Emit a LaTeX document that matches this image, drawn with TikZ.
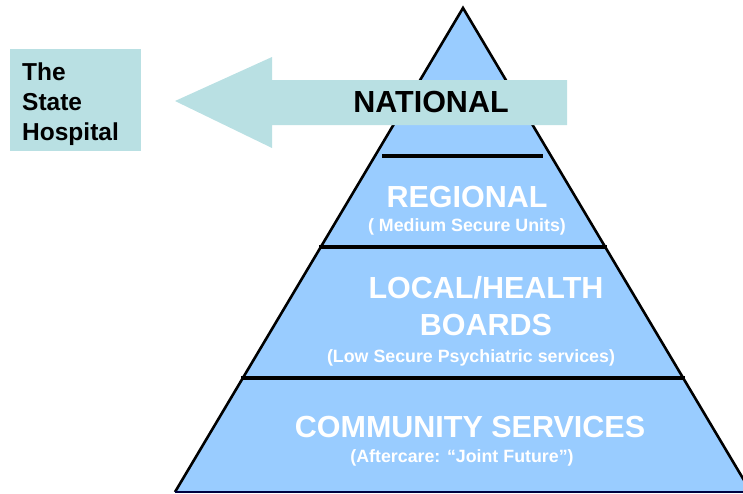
\documentclass[tikz,border=0pt]{standalone}
\usepackage{fontspec}
\setmainfont{Liberation Sans}
\definecolor{tierblue}{RGB}{153,204,255}
\definecolor{paleteal}{RGB}{185,224,227}
\begin{document}
\begin{tikzpicture}[x=1pt,y=-1pt,
  tiertitle/.style={font=\fontsize{30.5}{32}\selectfont\bfseries, text=white, anchor=base, inner sep=0},
  tiernote/.style={font=\fontsize{17.8}{19}\selectfont\bfseries, text=white, anchor=base, inner sep=0},
  divider/.style={line width=3.5pt, black}]
\useasboundingbox (0,0) rectangle (743,493);
\clip (0,0) rectangle (743,493);

% pyramid body
\coordinate (apex) at (463,8);
\coordinate (bl) at (175,492);
\coordinate (br) at (751,492);
\fill[tierblue] (apex) -- (bl) -- (br) -- cycle;
\draw[line width=2.6pt, line join=miter] (bl) -- (apex) -- (br);
\draw[line width=1.2pt, black!75!blue] (bl) -- (br);

% tier dividers
\coordinate (d1l) at (382,156);
\coordinate (d1r) at (543,156);
\coordinate (d2l) at (319,247);
\coordinate (d2r) at (607,247);
\coordinate (d3l) at (241,378);
\coordinate (d3r) at (685,378);
\draw[divider] (d1l) -- (d1r);
\draw[divider] (d2l) -- (d2r);
\draw[divider] (d3l) -- (d3r);

% arrow to the hospital
\coordinate (tip) at (175,101);
\fill[paleteal] (tip) -- (272,57) -- (272,80) -- (567,80) -- (567,125) -- (272,125) -- (272,148) -- cycle;
\node[font=\fontsize{30.5}{32}\selectfont\bfseries, anchor=base, inner sep=0] (national) at (431,112) {NATIONAL};

% hospital box
\node[fill=paleteal, minimum width=131pt, minimum height=102pt, anchor=north west, inner sep=0] (hospbox) at (10,49) {};
\node[font=\fontsize{24.5}{30}\selectfont\bfseries, align=left, anchor=base west, inner sep=0] (hosp) at (22,140) {The\\State\\Hospital};

% tier labels
\node[tiertitle] (regional) at (467,207) {REGIONAL};
\node[tiernote] (regnote) at (467,231) {( Medium Secure Units)};
\node[tiertitle] (local) at (486,298) {LOCAL/HEALTH};
\node[tiertitle] (boards) at (486,335) {BOARDS};
\node[tiernote] (localnote) at (471,362) {(Low Secure Psychiatric services)};
\node[tiertitle] (community) at (470,437) {COMMUNITY SERVICES};
\node[tiernote] (commnote) at (462,462) {(Aftercare: “Joint Future”)};
\end{tikzpicture}
\end{document}
